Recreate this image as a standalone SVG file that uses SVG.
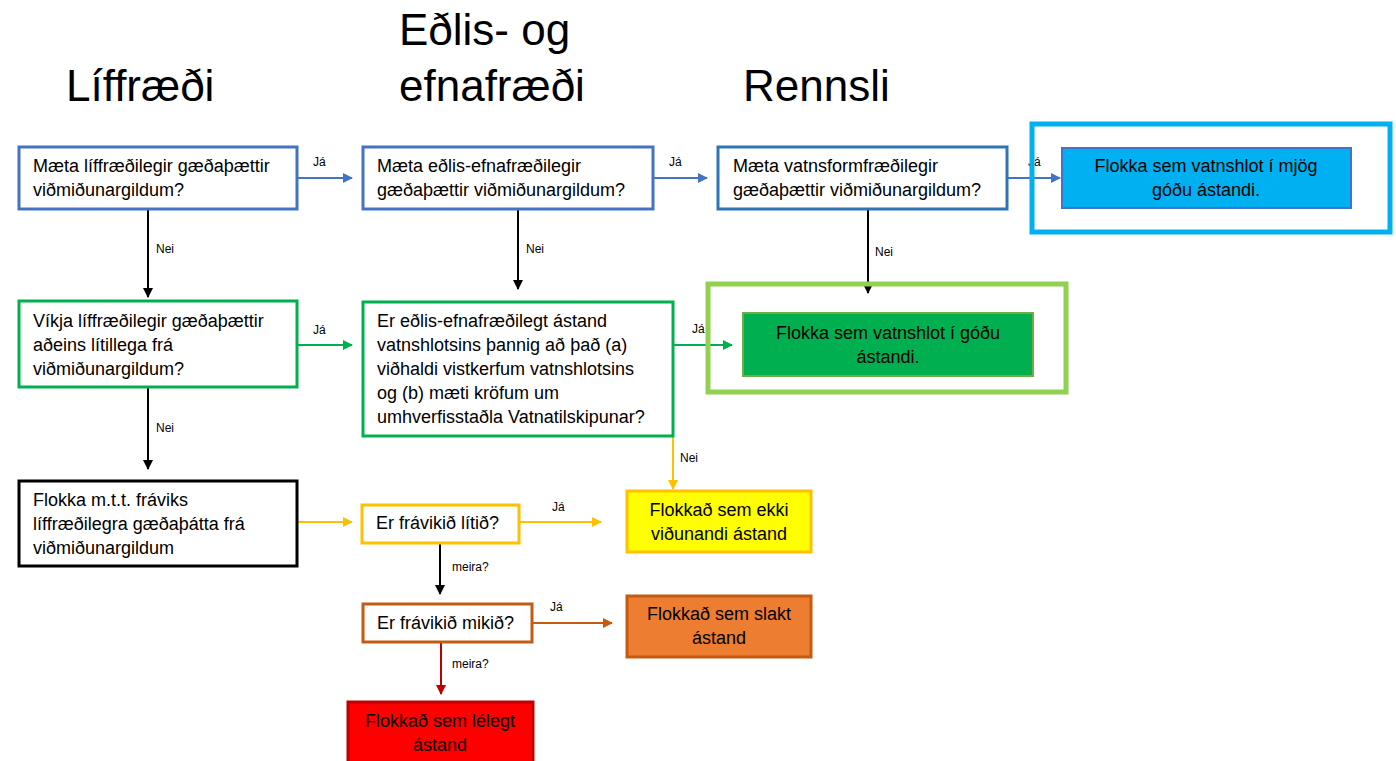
<svg xmlns="http://www.w3.org/2000/svg" width="1396" height="761" viewBox="0 0 1396 761">
<style>
text{font-family:"Liberation Sans",Arial,sans-serif;fill:#000}
.t{font-size:44px}
.b{font-size:18px}
.s{font-size:12px}
.c{text-anchor:middle}
.box{fill:#fff;stroke-width:3}
</style>
<defs>
<marker id="mBlue" markerWidth="10" markerHeight="10" refX="9" refY="5" orient="auto" markerUnits="userSpaceOnUse"><path d="M0,0 L10,5 L0,10 z" fill="#4472C4"/></marker>
<marker id="mGreen" markerWidth="10" markerHeight="10" refX="9" refY="5" orient="auto" markerUnits="userSpaceOnUse"><path d="M0,0 L10,5 L0,10 z" fill="#00B050"/></marker>
<marker id="mYel" markerWidth="10" markerHeight="10" refX="9" refY="5" orient="auto" markerUnits="userSpaceOnUse"><path d="M0,0 L10,5 L0,10 z" fill="#FFC000"/></marker>
<marker id="mOr" markerWidth="10" markerHeight="10" refX="9" refY="5" orient="auto" markerUnits="userSpaceOnUse"><path d="M0,0 L10,5 L0,10 z" fill="#C55A11"/></marker>
<marker id="mRed" markerWidth="10" markerHeight="10" refX="9" refY="5" orient="auto" markerUnits="userSpaceOnUse"><path d="M0,0 L10,5 L0,10 z" fill="#C00000"/></marker>
<marker id="mBlk" markerWidth="10" markerHeight="10" refX="9" refY="5" orient="auto" markerUnits="userSpaceOnUse"><path d="M0,0 L10,5 L0,10 z" fill="#000"/></marker>
</defs>
<rect width="1396" height="761" fill="#fff"/>

<g id="titles">
<text class="t" x="66" y="101">Líffræði</text>
<text class="t" x="399" y="45">Eðlis- og</text>
<text class="t" x="399" y="101">efnafræði</text>
<text class="t" x="743" y="101">Rennsli</text>
</g>

<g id="connectors" fill="none" stroke-width="2">
<line x1="297" y1="178" x2="352" y2="178" stroke="#4472C4" marker-end="url(#mBlue)"/>
<line x1="653" y1="178" x2="707" y2="178" stroke="#4472C4" marker-end="url(#mBlue)"/>
<line x1="1007" y1="178" x2="1060" y2="178" stroke="#4472C4" marker-end="url(#mBlue)"/>
<line x1="148" y1="209" x2="148" y2="297" stroke="#000" marker-end="url(#mBlk)"/>
<line x1="518" y1="209" x2="518" y2="289" stroke="#000" marker-end="url(#mBlk)"/>
<line x1="868" y1="209" x2="868" y2="293" stroke="#000" marker-end="url(#mBlk)"/>
<line x1="297" y1="345" x2="352" y2="345" stroke="#00B050" marker-end="url(#mGreen)"/>
<line x1="673" y1="345" x2="732" y2="345" stroke="#00B050" marker-end="url(#mGreen)"/>
<line x1="148" y1="387" x2="148" y2="469" stroke="#000" marker-end="url(#mBlk)"/>
<line x1="673" y1="436" x2="673" y2="489" stroke="#FFC000" marker-end="url(#mYel)"/>
<line x1="297" y1="522" x2="352" y2="522" stroke="#FFC000" marker-end="url(#mYel)"/>
<line x1="519" y1="522" x2="601" y2="522" stroke="#FFC000" marker-end="url(#mYel)"/>
<line x1="440" y1="543" x2="440" y2="594" stroke="#000" marker-end="url(#mBlk)"/>
<line x1="532" y1="623" x2="612" y2="623" stroke="#C55A11" marker-end="url(#mOr)"/>
<line x1="441" y1="642" x2="441" y2="694" stroke="#C00000" marker-end="url(#mRed)"/>
<text class="s" x="313" y="166">Já</text>
<text class="s" x="669" y="166">Já</text>
<text class="s" x="1028" y="166">Já</text>
<text class="s" x="156" y="253">Nei</text>
<text class="s" x="526" y="253">Nei</text>
<text class="s" x="875" y="256">Nei</text>
<text class="s" x="313" y="334">Já</text>
<text class="s" x="692" y="333">Já</text>
<text class="s" x="156" y="432">Nei</text>
<text class="s" x="680" y="462">Nei</text>
<text class="s" x="552" y="511">Já</text>
<text class="s" x="452" y="571">meira?</text>
<text class="s" x="550" y="611">Já</text>
<text class="s" x="452" y="668">meira?</text>
</g>

<g id="frame-very-good"><rect x="1032" y="124" width="358" height="108" fill="none" stroke="#00B0F0" stroke-width="5"/></g>
<g id="frame-good"><rect x="708" y="284" width="358" height="108" fill="none" stroke="#92D050" stroke-width="5"/></g>

<g id="n-a1"><rect class="box" x="19" y="147" width="278" height="62" stroke="#4472C4"/>
<text class="b" x="33" y="172">Mæta líffræðilegir gæðaþættir</text>
<text class="b" x="33" y="196">viðmiðunargildum?</text></g>

<g id="n-b1"><rect class="box" x="363" y="147" width="290" height="62" stroke="#4472C4"/>
<text class="b" x="377" y="172">Mæta eðlis-efnafræðilegir</text>
<text class="b" x="377" y="196">gæðaþættir viðmiðunargildum?</text></g>

<g id="n-c1"><rect class="box" x="718" y="147" width="289" height="62" stroke="#2E75B6"/>
<text class="b" x="733" y="172">Mæta vatnsformfræðilegir</text>
<text class="b" x="733" y="196">gæðaþættir viðmiðunargildum?</text></g>

<g id="n-verygood"><rect x="1062" y="148" width="289" height="60" fill="#00B0F0" stroke="#4472C4" stroke-width="2"/>
<text class="b c" x="1206" y="172">Flokka sem vatnshlot í mjög</text>
<text class="b c" x="1206" y="196">góðu ástandi.</text></g>

<g id="n-a2"><rect class="box" x="19" y="301" width="278" height="86" stroke="#00B050"/>
<text class="b" x="33" y="327">Víkja líffræðilegir gæðaþættir</text>
<text class="b" x="33" y="351">aðeins lítillega frá</text>
<text class="b" x="33" y="375">viðmiðunargildum?</text></g>

<g id="n-b2"><rect class="box" x="363" y="302" width="310" height="134" stroke="#00B050"/>
<text class="b" x="377" y="327">Er eðlis-efnafræðilegt ástand</text>
<text class="b" x="377" y="351">vatnshlotsins þannig að það (a)</text>
<text class="b" x="377" y="375">viðhaldi vistkerfum vatnshlotsins</text>
<text class="b" x="377" y="399">og (b) mæti kröfum um</text>
<text class="b" x="377" y="423">umhverfisstaðla Vatnatilskipunar?</text></g>

<g id="n-good"><rect x="743" y="313" width="290" height="63" fill="#00B050" stroke="#70AD47" stroke-width="2"/>
<text class="b c" x="888" y="339">Flokka sem vatnshlot í góðu</text>
<text class="b c" x="888" y="363">ástandi.</text></g>

<g id="n-a3"><rect class="box" x="19" y="481" width="278" height="85" stroke="#000"/>
<text class="b" x="33" y="506">Flokka m.t.t. fráviks</text>
<text class="b" x="33" y="530">líffræðilegra gæðaþátta frá</text>
<text class="b" x="33" y="554">viðmiðunargildum</text></g>

<g id="n-d1"><rect class="box" x="362" y="505" width="157" height="38" stroke="#FFC000"/>
<text class="b" x="376" y="529">Er frávikið lítið?</text></g>

<g id="n-moderate"><rect x="627" y="491" width="184" height="61" fill="#FFFF00" stroke="#FFC000" stroke-width="3"/>
<text class="b c" x="719" y="516">Flokkað sem ekki</text>
<text class="b c" x="719" y="540">viðunandi ástand</text></g>

<g id="n-d2"><rect class="box" x="363" y="604" width="169" height="38" stroke="#C55A11"/>
<text class="b" x="377" y="629">Er frávikið mikið?</text></g>

<g id="n-poor"><rect x="627" y="596" width="184" height="61" fill="#ED7D31" stroke="#C55A11" stroke-width="3"/>
<text class="b c" x="719" y="620">Flokkað sem slakt</text>
<text class="b c" x="719" y="644">ástand</text></g>

<g id="n-bad"><rect x="348" y="702" width="185" height="62" fill="#FF0000" stroke="#C00000" stroke-width="3"/>
<text class="b c" x="440" y="727">Flokkað sem lélegt</text>
<text class="b c" x="440" y="751">ástand</text></g>
</svg>
